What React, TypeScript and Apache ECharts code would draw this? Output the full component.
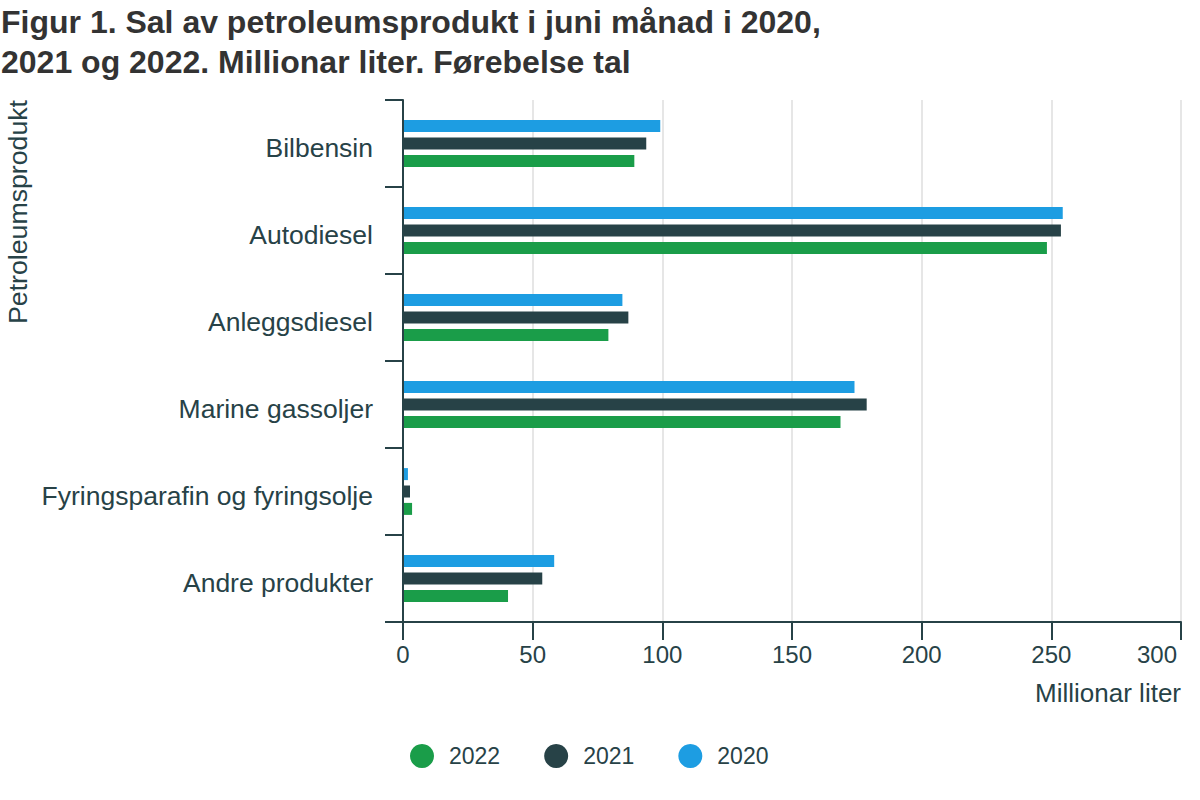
import React, { useEffect, useRef } from "react";
import * as echarts from "echarts";

const categories = [
  "Bilbensin",
  "Autodiesel",
  "Anleggsdiesel",
  "Marine gassoljer",
  "Fyringsparafin og fyringsolje",
  "Andre produkter",
];
const values2020 = [99.2, 254.4, 84.6, 174.1, 1.9, 58.3];
const values2021 = [93.8, 253.7, 86.9, 178.8, 2.7, 53.7];
const values2022 = [89.2, 248.3, 79.2, 168.7, 3.5, 40.5];
const legendOrder = ["2022", "2021", "2020"];
const xTicks = { min: 0, max: 300, interval: 50 };

const FONT = "'Liberation Sans', Arial, sans-serif";
const TXT = "#274247";

export default function App() {
  const ref = useRef<HTMLDivElement>(null);
  useEffect(() => {
    if (!ref.current) return;
    const chart = echarts.init(ref.current, undefined, { renderer: "svg" });
    chart.setOption({
      animation: false,
      textStyle: { fontFamily: FONT },
      title: {
        text: "Figur 1. Sal av petroleumsprodukt i juni månad i 2020,\n2021 og 2022. Millionar liter. Førebelse tal",
        left: 1,
        top: 2,
        padding: 0,
        textStyle: {
          fontFamily: FONT,
          fontSize: 32,
          fontWeight: "bold",
          color: "#333333",
          lineHeight: 40,
        },
      },
      legend: {
        data: legendOrder,
        left: 410,
        top: 744,
        padding: 0,
        icon: "circle",
        itemWidth: 24,
        itemHeight: 24,
        itemGap: 44,
        textStyle: { fontFamily: FONT, fontSize: 23, color: TXT, padding: [0, 0, 0, 10] },
      },
      grid: { left: 403, right: 19, top: 100, bottom: 178, containLabel: false },
      xAxis: {
        type: "value",
        min: xTicks.min,
        max: xTicks.max,
        interval: xTicks.interval,
        axisLine: { show: true, lineStyle: { color: TXT, width: 2 } },
        axisTick: { show: true, length: 18, lineStyle: { color: TXT, width: 2 } },
        axisLabel: {
          fontFamily: FONT,
          fontSize: 24,
          color: TXT,
          margin: 20,
          formatter: (v: number) => (v === xTicks.max ? "{last|" + v + "}" : String(v)),
          rich: {
            last: { fontFamily: FONT, fontSize: 24, color: TXT, padding: [0, 48, 0, 0] },
          },
        },
        splitLine: { show: true, lineStyle: { color: "#e6e6e6", width: 2 } },
      },
      yAxis: {
        type: "category",
        data: categories,
        inverse: true,
        z: 5,
        axisLine: { show: true, lineStyle: { color: TXT, width: 2 } },
        axisTick: { show: true, length: 18, lineStyle: { color: TXT, width: 2 } },
        axisLabel: {
          fontFamily: FONT,
          fontSize: 26.5,
          color: TXT,
          margin: 30,
          formatter: (v: string) => "{c|" + v + "}",
          rich: {
            c: { fontFamily: FONT, fontSize: 26.5, color: TXT, padding: [8, 0, 0, 0] },
          },
        },
        splitLine: { show: false },
      },
      graphic: [
        {
          type: "text",
          x: 18,
          y: 100,
          rotation: Math.PI / 2,
          style: {
            text: "Petroleumsprodukt",
            fontFamily: FONT,
            fontSize: 26.7,
            fill: TXT,
            align: "right",
            verticalAlign: "middle",
          },
        },
        {
          type: "text",
          x: 1181,
          y: 693,
          style: {
            text: "Millionar liter",
            fontFamily: FONT,
            fontSize: 26,
            fill: TXT,
            align: "right",
            verticalAlign: "middle",
          },
        },
      ],
      series: [
        { name: "2020", type: "bar", data: values2020, barWidth: 12, barGap: "45%", itemStyle: { color: "#1d9de2" } },
        { name: "2021", type: "bar", data: values2021, barWidth: 12, barGap: "45%", itemStyle: { color: "#274247" } },
        { name: "2022", type: "bar", data: values2022, barWidth: 12, barGap: "45%", itemStyle: { color: "#1a9d49" } },
      ],
    });
    return () => chart.dispose();
  }, []);
  return (
    <div
      ref={ref}
      style={{ position: "fixed", left: 0, top: 0, width: 1200, height: 800, background: "#fff" }}
    />
  );
}
